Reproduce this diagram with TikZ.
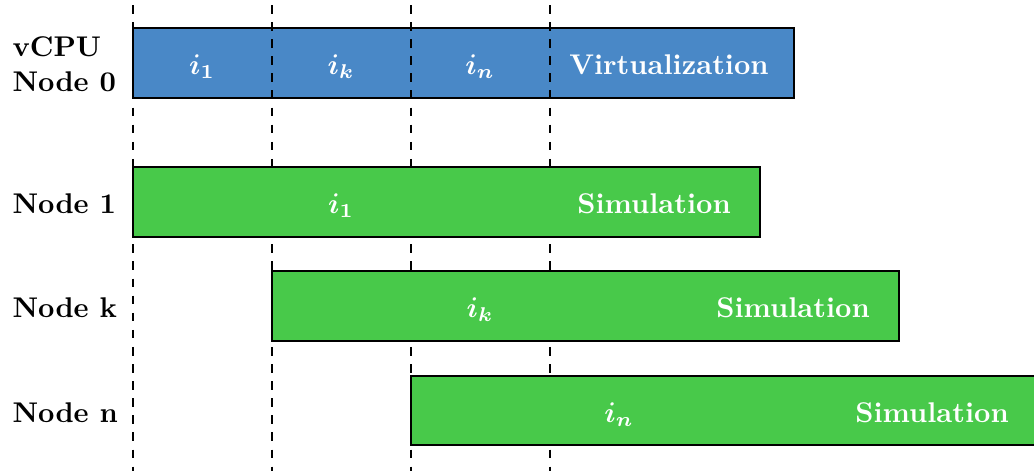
\documentclass[tikz,border=0pt]{standalone}
\usepackage{bm}
\usetikzlibrary{fit}
\definecolor{virtblue}{RGB}{73,136,199}
\definecolor{simgreen}{RGB}{72,201,74}
\tikzset{
  phase/.style={draw=black, line width=0.4pt, inner sep=0pt},
  virtbox/.style={phase, fill=virtblue},
  simbox/.style={phase, fill=simgreen},
  intext/.style={text=white, font=\bfseries, anchor=base, inner sep=0pt},
  rowlabel/.style={font=\bfseries, anchor=base west, inner sep=0pt, align=left},
  tick/.style={dashed, line width=0.4pt}
}
\begin{document}
\begin{tikzpicture}[x=0.3509pt, y=-0.3509pt]
  \path[use as bounding box] (0,0) rectangle (1034,471);
  \clip (0,0) rectangle (1034,471);

  % virtualization phase on the vCPU node
  \node[virtbox, fit={(133,28) (794,98)}] (v0) {};

  % instant markers
  \foreach \name/\x in {t1/133, tk/272, tn/411, te/550} {
    \coordinate (\name top) at (\x,5);
    \coordinate (\name bot) at (\x,471);
    \draw[tick] (\name top) -- (\name bot);
  }

  % simulation phases
  \node[simbox, fit={(133,167) (760,237)}] (s1) {};
  \node[simbox, fit={(272,271) (899,341)}] (sk) {};
  \node[simbox, fit={(411,376) (1040,445)}] (sn) {};

  % labels inside the bars
  \node[intext] (v0i1) at (202,74) {$\bm{i_1}$};
  \node[intext] (v0ik) at (341,74) {$\bm{i_k}$};
  \node[intext] (v0in) at (480,74) {$\bm{i_n}$};
  \node[intext] (v0t) at (669,74) {Virtualization};

  \node[intext] (s1i) at (341,213) {$\bm{i_1}$};
  \node[intext] (s1t) at (654,213) {Simulation};
  \node[intext] (ski) at (480,317) {$\bm{i_k}$};
  \node[intext] (skt) at (793,317) {Simulation};
  \node[intext] (sni) at (619,422) {$\bm{i_n}$};
  \node[intext] (snt) at (932,422) {Simulation};

  % row labels
  \node[rowlabel] (l0) at (12,91) {vCPU\\Node 0};
  \node[rowlabel] (l1) at (12,213) {Node 1};
  \node[rowlabel] (lk) at (12,317) {Node k};
  \node[rowlabel] (ln) at (12,422) {Node n};
\end{tikzpicture}
\end{document}
